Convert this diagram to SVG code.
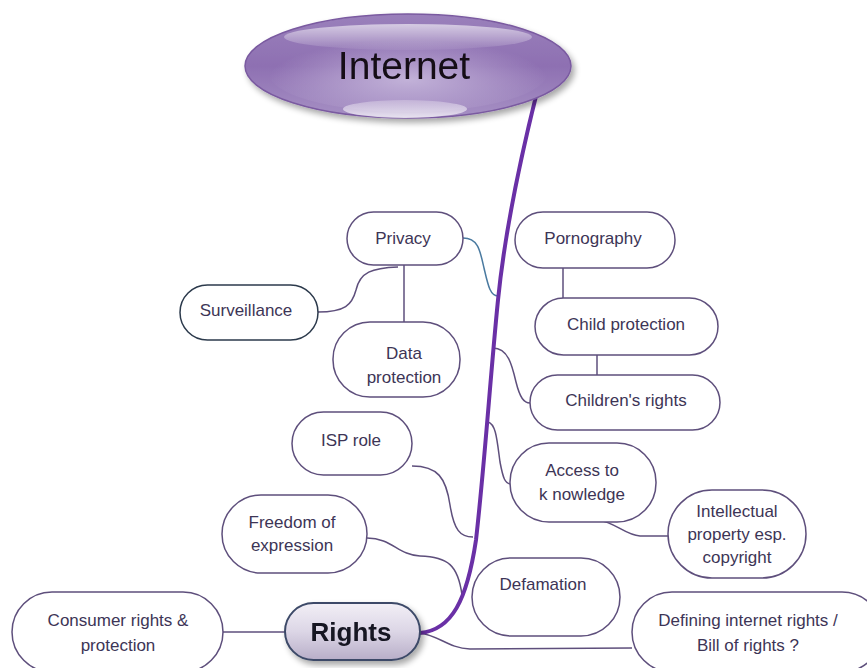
<svg xmlns="http://www.w3.org/2000/svg" width="867" height="668" viewBox="0 0 867 668">
<defs>
<linearGradient id="gInt" x1="0" y1="0" x2="0" y2="1">
<stop offset="0" stop-color="#9a80bb"/>
<stop offset="0.5" stop-color="#8e70b2"/>
<stop offset="1" stop-color="#a690c4"/>
</linearGradient>
<radialGradient id="gIntC" cx="0.5" cy="0.6" r="0.5">
<stop offset="0" stop-color="#c7b8dc" stop-opacity="0.9"/>
<stop offset="1" stop-color="#c7b8dc" stop-opacity="0"/>
</radialGradient>
<linearGradient id="gHi" x1="0" y1="0" x2="0" y2="1">
<stop offset="0" stop-color="#ffffff" stop-opacity="0.6"/>
<stop offset="1" stop-color="#ffffff" stop-opacity="0.05"/>
</linearGradient>
<linearGradient id="gHi2" x1="0" y1="0" x2="0" y2="1">
<stop offset="0" stop-color="#ffffff" stop-opacity="0.25"/>
<stop offset="1" stop-color="#ffffff" stop-opacity="0.75"/>
</linearGradient>
<linearGradient id="gRights" x1="0" y1="0" x2="0" y2="1">
<stop offset="0" stop-color="#f2eff6"/>
<stop offset="0.5" stop-color="#dcd6e6"/>
<stop offset="1" stop-color="#b8aec8"/>
</linearGradient>
<filter id="sh" x="-10%" y="-20%" width="125%" height="150%">
<feGaussianBlur in="SourceAlpha" stdDeviation="3"/>
<feOffset dx="3" dy="4"/>
<feComponentTransfer><feFuncA type="linear" slope="0.35"/></feComponentTransfer>
<feMerge><feMergeNode/><feMergeNode in="SourceGraphic"/></feMerge>
</filter>
</defs>
<style>
.box{fill:#ffffff;stroke:#5e4f7c;stroke-width:1.5}
.t{font-family:"Liberation Sans",Arial,sans-serif;font-size:17px;fill:#3d3556;text-anchor:middle}
.c{fill:none;stroke:#5e4f7c;stroke-width:1.5}
</style>
<rect width="867" height="668" fill="#ffffff"/>

<g id="connectors">
<path class="c" d="M404,265 L404,322"/>
<path class="c" d="M318,312 C345,312 352,305 356,290 C360,272 372,268 398,267"/>
<path fill="none" stroke="#4a7aa0" stroke-width="1.5" d="M463,238 C478,238 480,250 484,268 C488,285 490,296 498,296"/>
<path class="c" d="M563,268 L563,298"/>
<path class="c" d="M597,355 L597,375"/>
<path class="c" d="M493,348 C508,348 512,365 516,382 C520,398 524,403 530,403"/>
<path class="c" d="M488,422 C496,424 497,440 500,462 C503,478 505,484 511,484"/>
<path class="c" d="M598,520 C615,522 625,535 640,536 L668,536"/>
<path class="c" d="M412,466 C438,466 446,478 450,505 C454,530 460,537 473,537"/>
<path class="c" d="M367,538 C392,538 398,555 420,556 C448,557 458,565 462,595"/>
<path class="c" d="M223,632 L285,632"/>
<path class="c" d="M420,633 C440,636 448,648 470,649 L632,648"/>
<path fill="none" stroke="#6a30a6" stroke-width="4" stroke-linecap="round" d="M537,92 C520,160 505,230 498,300 C490,380 485,460 476,540 C467,600 452,630 420,633"/>
</g>

<g id="internet" filter="url(#sh)">
<ellipse cx="408" cy="66" rx="163" ry="52" fill="url(#gInt)" stroke="#7a5aa0" stroke-width="1.5"/>
<ellipse cx="408" cy="72" rx="140" ry="40" fill="url(#gIntC)"/>
<ellipse cx="408" cy="37" rx="124" ry="13" fill="url(#gHi)"/>
<ellipse cx="405" cy="109" rx="62" ry="9" fill="url(#gHi2)"/>
<text x="404" y="79" font-family="'Liberation Sans',Arial,sans-serif" font-size="39" fill="#120e18" text-anchor="middle">Internet</text>
</g>

<g id="privacy">
<rect class="box" x="347" y="212" width="116" height="53" rx="26.5"/>
<text class="t" x="403" y="244">Privacy</text>
</g>
<g id="pornography">
<rect class="box" x="515" y="212" width="160" height="56" rx="28"/>
<text class="t" x="593" y="244">Pornography</text>
</g>
<g id="surveillance">
<rect x="180" y="285" width="138" height="55" rx="27.5" fill="#ffffff" stroke="#2c3a4c" stroke-width="1.5"/>
<text class="t" x="246" y="316" fill="#1e2230">Surveillance</text>
</g>
<g id="data-protection">
<rect class="box" x="333" y="322" width="127" height="75" rx="37"/>
<text class="t" x="404" y="359">Data</text>
<text class="t" x="404" y="383">protection</text>
</g>
<g id="child-protection">
<rect class="box" x="535" y="298" width="183" height="57" rx="28.5"/>
<text class="t" x="626" y="330">Child protection</text>
</g>
<g id="childrens-rights">
<rect class="box" x="530" y="375" width="190" height="55" rx="27.5"/>
<text class="t" x="626" y="406">Children's rights</text>
</g>
<g id="isp-role">
<rect class="box" x="292" y="412" width="120" height="63" rx="31.5"/>
<text class="t" x="351" y="446">ISP role</text>
</g>
<g id="access">
<rect class="box" x="510" y="443" width="146" height="79" rx="39"/>
<text class="t" x="582" y="476">Access to</text>
<text class="t" x="582" y="500">k nowledge</text>
</g>
<g id="intellectual">
<rect class="box" x="668" y="490" width="138" height="88" rx="44"/>
<text class="t" x="737" y="517">Intellectual</text>
<text class="t" x="737" y="540">property esp.</text>
<text class="t" x="737" y="563">copyright</text>
</g>
<g id="freedom">
<rect class="box" x="222" y="495" width="145" height="78" rx="39"/>
<text class="t" x="292" y="528">Freedom of</text>
<text class="t" x="292" y="551">expression</text>
</g>
<g id="defamation">
<rect class="box" x="472" y="558" width="148" height="78" rx="39"/>
<text class="t" x="543" y="590">Defamation</text>
</g>
<g id="consumer">
<rect class="box" x="12" y="592" width="211" height="80" rx="40"/>
<text class="t" x="118" y="626">Consumer rights &amp;</text>
<text class="t" x="118" y="651">protection</text>
</g>
<g id="defining">
<rect class="box" x="632" y="592" width="250" height="80" rx="40"/>
<text class="t" x="748" y="626">Defining internet rights  /</text>
<text class="t" x="748" y="651">Bill of rights  ?</text>
</g>
<g id="rights" filter="url(#sh)">
<rect x="285" y="603" width="135" height="57" rx="28.5" fill="url(#gRights)" stroke="#3c4a68" stroke-width="2"/>
<text x="351" y="641" font-family="'Liberation Sans',Arial,sans-serif" font-size="26" font-weight="bold" fill="#141420" text-anchor="middle">Rights</text>
</g>
</svg>
